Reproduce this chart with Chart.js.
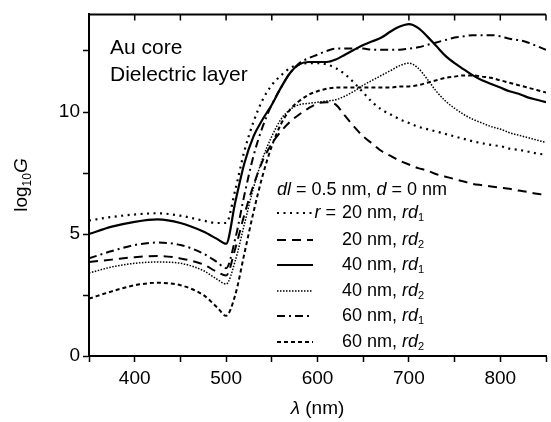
<!DOCTYPE html>
<html>
<head>
<meta charset="utf-8">
<script src="https://cdn.jsdelivr.net/npm/chart.js@4.4.1/dist/chart.umd.min.js"></script>
<style>
  html, body { margin: 0; padding: 0; background: #fff; }
</style>
</head>
<body>
<canvas id="chart" width="551" height="422"></canvas>
<script>
// wavelength in nm (shared x values)
const wavelength = [350, 375, 400, 425, 450, 475, 490, 500,
  510, 520, 530, 540, 550, 560, 570, 580, 590, 600, 610, 620, 630, 640, 650, 660, 670, 680,
  690, 700, 710, 720, 730, 740, 750, 760, 770, 780, 790, 800, 810, 820, 830, 840, 850];

// log10 G for each core radius / rd model
const r20rd1 = [5.55, 5.7, 5.8, 5.85, 5.75, 5.55, 5.45, 5.45,
  6.8, 8.4, 9.6, 10.5, 11.1, 11.5, 11.8, 11.95, 12.0, 12.0, 11.95, 11.8, 11.55, 11.2, 10.8, 10.4, 10.1, 9.9,
  9.7, 9.55, 9.4, 9.3, 9.2, 9.1, 9.0, 8.9, 8.8, 8.72, 8.65, 8.6, 8.5, 8.45, 8.38, 8.3, 8.25];
const r20rd2 = [3.85, 3.95, 4.05, 4.1, 4.0, 3.75, 3.45, 3.3,
  4.4, 5.8, 7.0, 8.0, 8.7, 9.2, 9.6, 9.9, 10.15, 10.35, 10.4, 10.3, 9.85, 9.4, 9.0, 8.7, 8.4, 8.2,
  8.0, 7.85, 7.7, 7.6, 7.45, 7.35, 7.25, 7.15, 7.05, 7.0, 6.95, 6.9, 6.85, 6.78, 6.72, 6.65, 6.6];
const r40rd1 = [5.0, 5.3, 5.5, 5.6, 5.45, 5.1, 4.8, 4.6,
  6.3, 7.9, 9.0, 9.7, 10.3, 11.0, 11.6, 11.95, 12.05, 12.05, 12.05, 12.15, 12.35, 12.55, 12.75, 12.9, 13.05, 13.3,
  13.5, 13.6, 13.45, 13.1, 12.7, 12.3, 12.0, 11.75, 11.5, 11.3, 11.15, 11.0, 10.85, 10.75, 10.6, 10.5, 10.4];
const r40rd2 = [3.4, 3.65, 3.8, 3.85, 3.8, 3.5, 3.15, 2.95,
  3.9, 5.4, 6.9, 8.1, 9.0, 9.7, 10.1, 10.3, 10.35, 10.4, 10.45, 10.5, 10.65, 10.85, 11.1, 11.3, 11.5, 11.7,
  11.9, 12.0, 11.8, 11.35, 10.85, 10.45, 10.15, 9.9, 9.7, 9.55, 9.4, 9.3, 9.15, 9.05, 8.95, 8.85, 8.75];
const r60rd1 = [4.0, 4.3, 4.55, 4.65, 4.55, 4.2, 3.85, 3.6,
  4.8, 6.6, 8.2, 9.4, 10.3, 11.0, 11.6, 12.0, 12.2, 12.35, 12.5, 12.6, 12.6, 12.6, 12.6, 12.55, 12.55, 12.55,
  12.55, 12.6, 12.65, 12.75, 12.85, 12.95, 13.05, 13.1, 13.15, 13.15, 13.15, 13.1, 13.0, 12.95, 12.85, 12.7, 12.55];
const r60rd2 = [2.35, 2.65, 2.9, 3.0, 2.9, 2.5, 2.0, 1.65,
  2.5, 4.2, 5.9, 7.4, 8.6, 9.5, 10.1, 10.45, 10.7, 10.85, 10.95, 11.0, 11.0, 11.0, 11.0, 11.0, 11.0, 11.0,
  11.05, 11.05, 11.1, 11.2, 11.3, 11.4, 11.45, 11.5, 11.5, 11.45, 11.4, 11.3, 11.2, 11.1, 11.0, 10.9, 10.8];

const radius = [20, 20, 40, 40, 60, 60];
const rdIndex = ['1', '2', '1', '2', '1', '2'];
const xLabeled = [400, 500, 600, 700, 800];
const yLabeled = [0, 5, 10];

const FONT = '"Liberation Sans", Arial, Helvetica, sans-serif';

function line(values, dash, width) {
  return {
    data: wavelength.map((x, i) => ({ x, y: values[i] })),
    borderColor: '#000',
    borderWidth: width,
    borderDash: dash,
    pointRadius: 0,
    fill: false,
    cubicInterpolationMode: 'monotone'
  };
}

// draw text made of parts: [text, 'n' | 'i' | 'sub']
function richText(ctx, parts, x, y, size, align) {
  const fontFor = p => (p[1] === 'i' ? 'italic ' : '') +
    (p[1] === 'sub' ? Math.round(size * 0.62) : size) + 'px ' + FONT;
  let w = 0;
  parts.forEach(p => { ctx.font = fontFor(p); w += ctx.measureText(p[0]).width; });
  let cx = align === 'right' ? x - w : align === 'center' ? x - w / 2 : x;
  ctx.textAlign = 'left';
  ctx.textBaseline = 'middle';
  parts.forEach(p => {
    ctx.font = fontFor(p);
    ctx.fillText(p[0], cx, p[1] === 'sub' ? y + size * 0.3 : y);
    cx += ctx.measureText(p[0]).width;
  });
}

const decorations = {
  id: 'decorations',
  afterDraw(chart) {
    const ctx = chart.ctx;
    const { left, top, right } = chart.chartArea;
    const xs = chart.scales.x;
    ctx.save();
    ctx.fillStyle = '#000';
    ctx.strokeStyle = '#000';

    // top frame with inward ticks
    ctx.lineWidth = 2;
    ctx.beginPath();
    ctx.moveTo(left - 1, top);
    ctx.lineTo(right, top);
    ctx.stroke();
    ctx.lineWidth = 1.5;
    ctx.beginPath();
    xs.ticks.forEach(t => {
      const px = xs.getPixelForValue(t.value);
      ctx.moveTo(px, top);
      ctx.lineTo(px, top + 6);
    });
    ctx.stroke();

    // axis titles
    richText(ctx, [['\u03bb', 'i'], [' (nm)', 'n']], (left + right) / 2, 409, 19, 'center');
    ctx.save();
    ctx.translate(22, 185);
    ctx.rotate(-Math.PI / 2);
    richText(ctx, [['log', 'n'], ['10', 'sub'], ['G', 'i']], 0, 0, 19, 'center');
    ctx.restore();

    // annotation
    richText(ctx, [['Au core', 'n']], 110, 48, 21, 'left');
    richText(ctx, [['Dielectric layer', 'n']], 110, 75, 21, 'left');

    // legend
    richText(ctx, [['dl', 'i'], [' = 0.5 nm, ', 'n'], ['d', 'i'], [' = 0 nm', 'n']], 277, 190, 18, 'left');
    const rowY = [213, 240, 265, 291, 316, 342];
    chart.data.datasets.forEach((ds, i) => {
      const y = rowY[i];
      ctx.save();
      ctx.lineWidth = ds.borderWidth;
      ctx.setLineDash(ds.borderDash);
      ctx.beginPath();
      ctx.moveTo(277, y);
      ctx.lineTo(313, y);
      ctx.stroke();
      ctx.restore();
      if (i === 0) richText(ctx, [['r', 'i'], [' = ', 'n']], 341, y, 18, 'right');
      richText(ctx, [[radius[i] + ' nm, ', 'n'], ['rd', 'i'], [rdIndex[i], 'sub']], 342, y, 18, 'left');
    });
    ctx.restore();
  }
};

new Chart(document.getElementById('chart'), {
  type: 'line',
  data: {
    datasets: [
      line(r20rd1, [2, 4.5], 2.2),
      line(r20rd2, [9, 6], 2),
      line(r40rd1, [], 2.2),
      line(r40rd2, [1.5, 1.5], 1.5),
      line(r60rd1, [8, 4, 2, 4], 2),
      line(r60rd2, [4, 3], 2)
    ]
  },
  options: {
    responsive: false,
    animation: false,
    devicePixelRatio: 1,
    layout: { padding: { top: 13, right: 0, bottom: 0, left: 0 } },
    plugins: { legend: { display: false }, tooltip: { enabled: false } },
    scales: {
      x: {
        type: 'linear',
        min: 350,
        max: 850,
        afterFit: s => { s.height = 66; },
        border: { color: '#000', width: 2 },
        grid: { drawOnChartArea: false, tickLength: 6, tickColor: '#000', tickWidth: 1.5 },
        ticks: {
          stepSize: 50,
          color: '#000',
          padding: 5,
          maxRotation: 0,
          autoSkip: false,
          font: { family: FONT, size: 19 },
          callback: v => xLabeled.includes(v) ? String(v) : ''
        }
      },
      y: {
        min: 0,
        max: 14,
        afterFit: s => { s.width = 89; },
        border: { color: '#000', width: 2 },
        grid: { drawOnChartArea: false, tickLength: 6, tickColor: '#000', tickWidth: 1.5 },
        ticks: {
          stepSize: 2.5,
          includeBounds: false,
          color: '#000',
          padding: 3,
          autoSkip: false,
          font: { family: FONT, size: 19 },
          callback: v => yLabeled.includes(v) ? String(v) : ''
        }
      }
    }
  },
  plugins: [decorations]
});
</script>
</body>
</html>
